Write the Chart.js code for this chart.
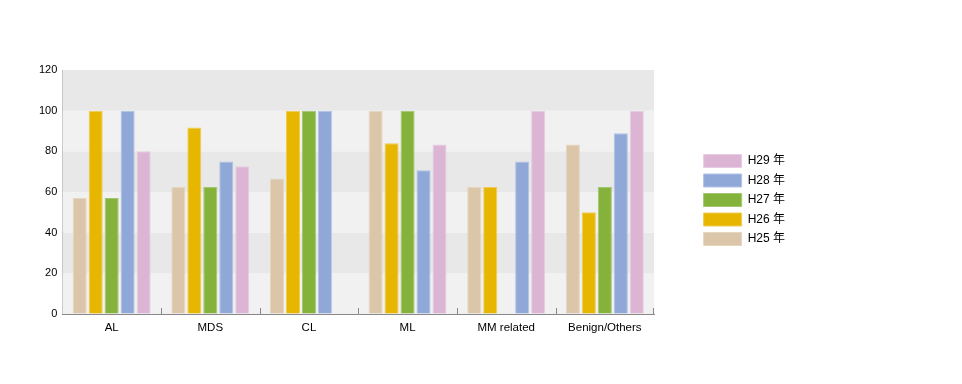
<!DOCTYPE html>
<html>
<head>
<meta charset="utf-8">
<script src="https://cdn.jsdelivr.net/npm/chart.js@4/dist/chart.umd.min.js"></script>
<style>
html,body{margin:0;padding:0;background:#fff;}
#wrap{width:962px;height:384px;position:relative;}
</style>
</head>
<body>
<div id="wrap"><canvas id="c" width="962" height="384"></canvas></div>
<script>
const categories = ['AL', 'MDS', 'CL', 'ML', 'MM related', 'Benign/Others'];
const seriesNames = ['H25 年', 'H26 年', 'H27 年', 'H28 年', 'H29 年'];
const h25 = [57.1, 62.5, 66.7, 100, 62.5, 83.3];
const h26 = [100, 91.7, 100, 84, 62.5, 50];
const h27 = [57.1, 62.5, 100, 100, null, 62.5];
const h28 = [100, 75, 100, 70.7, 75, 88.9];
const h29 = [80, 72.7, null, 83.3, 100, 100];
const yTicks = [0, 20, 40, 60, 80, 100, 120];

const colors = ['#dcc6aa', '#e6b600', '#85b23a', '#8fa8d8', '#dcb5d5'];
const borders = ['#e6d6c0', '#f0cc55', '#a2c670', '#b0c2e6', '#e8cce3'];
const values = [h25, h26, h27, h28, h29];

const FONT = '"Liberation Sans", "Noto Sans CJK JP", sans-serif';

const bandPlugin = {
  id: 'bands',
  beforeDatasetsDraw(chart) {
    const {ctx, chartArea, scales: {y}} = chart;
    ctx.save();
    for (let i = 0; i < yTicks.length - 1; i++) {
      const y0 = y.getPixelForValue(yTicks[i]);
      const y1 = y.getPixelForValue(yTicks[i + 1]);
      ctx.fillStyle = (i % 2 === 0) ? '#f1f1f1' : '#e8e8e8';
      ctx.fillRect(chartArea.left, y1, chartArea.right - chartArea.left, y0 - y1);
    }
    ctx.restore();
  },
  afterDatasetsDraw(chart) {
    const {ctx, chartArea, scales: {x}} = chart;
    ctx.save();
    ctx.strokeStyle = '#888';
    ctx.lineWidth = 1;
    ctx.beginPath();
    for (let i = 1; i < categories.length; i++) {
      const px = Math.round((x.getPixelForValue(i - 1) + x.getPixelForValue(i)) / 2) + 0.5;
      ctx.moveTo(px, chartArea.bottom);
      ctx.lineTo(px, chartArea.bottom - 6);
    }
    const pr = Math.round(chartArea.right) - 0.5;
    ctx.moveTo(pr, chartArea.bottom);
    ctx.lineTo(pr, chartArea.bottom - 6);
    ctx.stroke();
    ctx.restore();
  }
};

new Chart(document.getElementById('c'), {
  type: 'bar',
  data: {
    labels: categories,
    datasets: values.map((v, i) => ({
      label: seriesNames[i],
      data: v,
      backgroundColor: colors[i],
      borderColor: borders[i],
      borderWidth: 1,
      categoryPercentage: 0.81,
      barPercentage: 0.88
    }))
  },
  options: {
    responsive: false,
    animation: false,
    layout: {padding: {left: 34, right: 167, top: 62, bottom: 46}},
    plugins: {
      tooltip: {enabled: false},
      legend: {
        position: 'right',
        reverse: true,
        labels: {
          boxWidth: 38,
          boxHeight: 13,
          padding: 6.5,
          color: '#000',
          font: {family: FONT, size: 12}
        }
      }
    },
    scales: {
      x: {
        offset: true,
        grid: {offset: true, display: true, drawOnChartArea: false, drawTicks: false},
        border: {color: '#888'},
        ticks: {color: '#000', padding: 7, font: {family: FONT, size: 11.5}, maxRotation: 0},
        afterFit(axis) { axis.height = 24; }
      },
      y: {
        min: 0, max: 120,
        afterBuildTicks(axis) { axis.ticks = yTicks.map(v => ({value: v})); },
        grid: {drawOnChartArea: false, drawTicks: false},
        border: {color: '#888'},
        ticks: {color: '#000', padding: 5, font: {family: FONT, size: 11}}
      },
      gap: {
        position: 'right',
        display: true,
        grid: {display: false},
        border: {display: false},
        ticks: {display: false},
        afterFit(axis) { axis.width = 43; }
      },
      gapTop: {
        position: 'top',
        display: true,
        grid: {display: false},
        border: {display: false},
        ticks: {display: false},
        afterFit(axis) { axis.height = 8; }
      }
    }
  },
  plugins: [bandPlugin]
});
</script>
</body>
</html>
